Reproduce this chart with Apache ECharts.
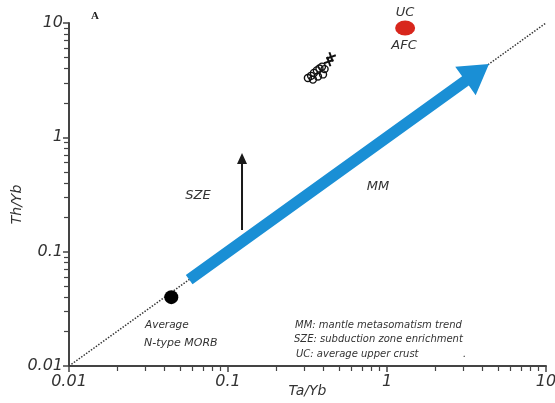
<!DOCTYPE html>
<html>
<head>
<meta charset="utf-8">
<script src="https://cdn.jsdelivr.net/npm/echarts@6/dist/echarts.min.js"></script>
<style>
  html, body { margin: 0; padding: 0; background: #fff; }
  #chart { width: 555px; height: 403px; }
</style>
</head>
<body>
<div id="chart"></div>
<script>
// Ta/Yb vs Th/Yb (log-log)
const diagonalX = [0.01, 10];
const diagonalY = [0.01, 10];

const sampleCircleX = [0.318, 0.333, 0.347, 0.362, 0.376, 0.390, 0.342, 0.368, 0.396, 0.405];
const sampleCircleY = [3.30, 3.45, 3.66, 3.85, 4.00, 4.15, 3.20, 3.40, 3.55, 3.95];
const sampleCrossX = [0.430, 0.445];
const sampleCrossY = [4.60, 5.05];

const morbX = [0.044];
const morbY = [0.040];
const crustX = [1.30];
const crustY = [9.05];

// arrows: [x0, y0, x1 (tip), y1 (tip)]
const mantleArrow = [0.057, 0.057, 4.38, 4.38];
const subductionArrow = [0.1225, 0.155, 0.1225, 0.73];

const tickFont = 'DejaVu Sans';
const inkColor = '#333';

const chart = echarts.init(document.getElementById('chart'));

function zip(xs, ys) {
  return xs.map((x, i) => [x, ys[i]]);
}

function arrowRenderer(shaftWidth, headWidth, headLength, color) {
  return function (params, api) {
    const p0 = api.coord([api.value(0), api.value(1)]);
    const p1 = api.coord([api.value(2), api.value(3)]);
    const dx = p1[0] - p0[0];
    const dy = p1[1] - p0[1];
    const len = Math.sqrt(dx * dx + dy * dy);
    const ux = dx / len, uy = dy / len;
    const nx = -uy, ny = ux;
    const bx = p1[0] - ux * headLength;
    const by = p1[1] - uy * headLength;
    const sw = shaftWidth / 2, hw = headWidth / 2;
    return {
      type: 'polygon',
      shape: {
        points: [
          [p0[0] + nx * sw, p0[1] + ny * sw],
          [bx + nx * sw, by + ny * sw],
          [bx + nx * hw, by + ny * hw],
          [p1[0], p1[1]],
          [bx - nx * hw, by - ny * hw],
          [bx - nx * sw, by - ny * sw],
          [p0[0] - nx * sw, p0[1] - ny * sw]
        ]
      },
      style: { fill: color }
    };
  };
}

function logAxis(extra) {
  return Object.assign({
    type: 'log',
    logBase: 10,
    min: 0.01,
    max: 10,
    nameMoveOverlap: false,
    splitLine: { show: false },
    axisLine: { lineStyle: { color: '#444', width: 2 } },
    axisTick: { length: 6, lineStyle: { color: '#444', width: 1.5 } },
    minorTick: { show: true, splitNumber: 9, length: 5, lineStyle: { color: '#444', width: 1.2 } },
    minorSplitLine: { show: false }
  }, extra);
}

function note(text, x, y, size, align) {
  return {
    type: 'text',
    x: x,
    y: y,
    style: {
      text: text,
      fill: inkColor,
      font: 'italic ' + size + 'px "DejaVu Sans"',
      align: align || 'left',
      verticalAlign: 'middle'
    }
  };
}

chart.setOption({
  animation: false,
  grid: { left: 69, right: 9, top: 23, bottom: 37, outerBoundsMode: 'none', containLabel: false },
  xAxis: logAxis({
    name: 'Ta/Yb',
    nameLocation: 'middle',
    nameGap: 18,
    nameTextStyle: { color: inkColor, fontFamily: tickFont, fontStyle: 'italic', fontSize: 14 },
    axisLabel: {
      color: inkColor, fontFamily: tickFont, fontStyle: 'italic', fontSize: 16,
      margin: 8, formatter: (v) => String(v)
    }
  }),
  yAxis: logAxis({
    name: 'Th/Yb',
    nameLocation: 'middle',
    nameGap: 45,
    nameTextStyle: {
      color: inkColor, fontFamily: tickFont, fontStyle: 'italic', fontSize: 14,
      padding: [0, 20, 0, 0]
    },
    axisLabel: {
      color: inkColor, fontFamily: tickFont, fontStyle: 'italic', fontSize: 16,
      margin: 6, formatter: (v) => String(v)
    }
  }),
  series: [
    {
      type: 'line',
      data: zip(diagonalX, diagonalY),
      symbol: 'none',
      lineStyle: { color: '#333', width: 1.5, type: [1.5, 1.5] },
      silent: true,
      z: 1
    },
    {
      type: 'custom',
      renderItem: arrowRenderer(11.5, 35, 29, '#1a8fd5'),
      data: [mantleArrow],
      z: 2
    },
    {
      type: 'custom',
      renderItem: arrowRenderer(2, 10, 11, '#1a1a1a'),
      data: [subductionArrow],
      z: 2
    },
    {
      type: 'scatter',
      data: zip(sampleCircleX, sampleCircleY),
      symbol: 'circle',
      symbolSize: 7,
      itemStyle: { color: 'rgba(255,255,255,0)', borderColor: '#111', borderWidth: 1.4, opacity: 1 },
      z: 3
    },
    {
      type: 'scatter',
      data: zip(sampleCrossX, sampleCrossY),
      symbol: 'path://M4,0H6V4H10V6H6V10H4V6H0V4H4Z',
      symbolSize: 10,
      symbolRotate: 20,
      itemStyle: { color: '#111', opacity: 1 },
      z: 3
    },
    {
      type: 'scatter',
      data: zip(morbX, morbY),
      symbol: 'circle',
      symbolSize: 14,
      itemStyle: { color: '#000', opacity: 1 },
      z: 3
    },
    {
      type: 'scatter',
      data: zip(crustX, crustY),
      symbol: 'circle',
      symbolSize: [20, 15],
      itemStyle: { color: '#d8261c', opacity: 1 },
      z: 3
    }
  ],
  graphic: [
    {
      type: 'text',
      x: 95,
      y: 16,
      style: {
        text: 'A',
        fill: '#222',
        font: 'bold 11px "Liberation Serif"',
        align: 'center',
        verticalAlign: 'middle'
      }
    },
    note('UC', 405, 13, 13, 'center'),
    note('AFC', 404, 46, 13, 'center'),
    note('SZE', 198, 196, 13, 'center'),
    note('MM', 378, 187, 13, 'center'),
    note('Average', 145, 325, 10.5),
    note('N-type MORB', 144, 343, 11),
    note('MM: mantle metasomatism trend', 295, 325, 10),
    note('SZE: subduction zone enrichment', 294, 339, 10),
    note('UC: average upper crust', 296, 354, 10),
    note('.', 463, 354, 10)
  ]
});
</script>
</body>
</html>
